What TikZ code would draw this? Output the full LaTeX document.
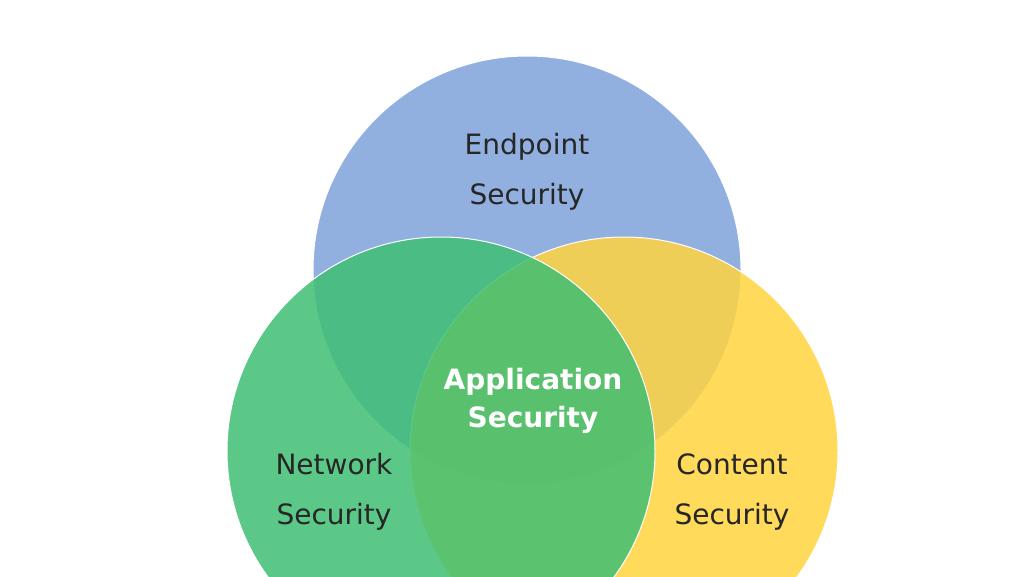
\documentclass[tikz,border=0pt]{standalone}
\usepackage{fontspec}
\setmainfont{DejaVu Sans}
\definecolor{endblue}{HTML}{7FA3DA}
\definecolor{netgreen}{HTML}{3FBF73}
\definecolor{conyellow}{HTML}{FFD43F}
\tikzset{
  ring/.style = {circle, minimum size = 428pt, draw = white, line width = 1pt, fill opacity = 0.85},
  label/.style = {align = center, font = \fontsize{28}{50}\selectfont, text = black!85},
  core/.style = {align = center, font = \fontsize{28}{38}\selectfont\bfseries, text = white}
}
\begin{document}
\begin{tikzpicture}[x = 1pt, y = -1pt]
    \useasboundingbox (0,0) rectangle (1024,576);
    \clip (0,0) rectangle (1024,576);
    \fill[white] (0,0) rectangle (1024,576);
    
    \node[ring, fill = endblue] (endpoint) at (527,270) {};
    \node[ring, fill = conyellow] (content) at (624,451) {};
    \node[ring, fill = netgreen] (network) at (441,451) {};
    
    \node[label] (endlabel) at (527,172) {Endpoint\\Security};
    \node[label] (netlabel) at (334,492) {Network\\Security};
    \node[label] (conlabel) at (732,492) {Content\\Security};
    \node[core] (applabel) at (533,401) {Application\\Security};
\end{tikzpicture}
\end{document}
